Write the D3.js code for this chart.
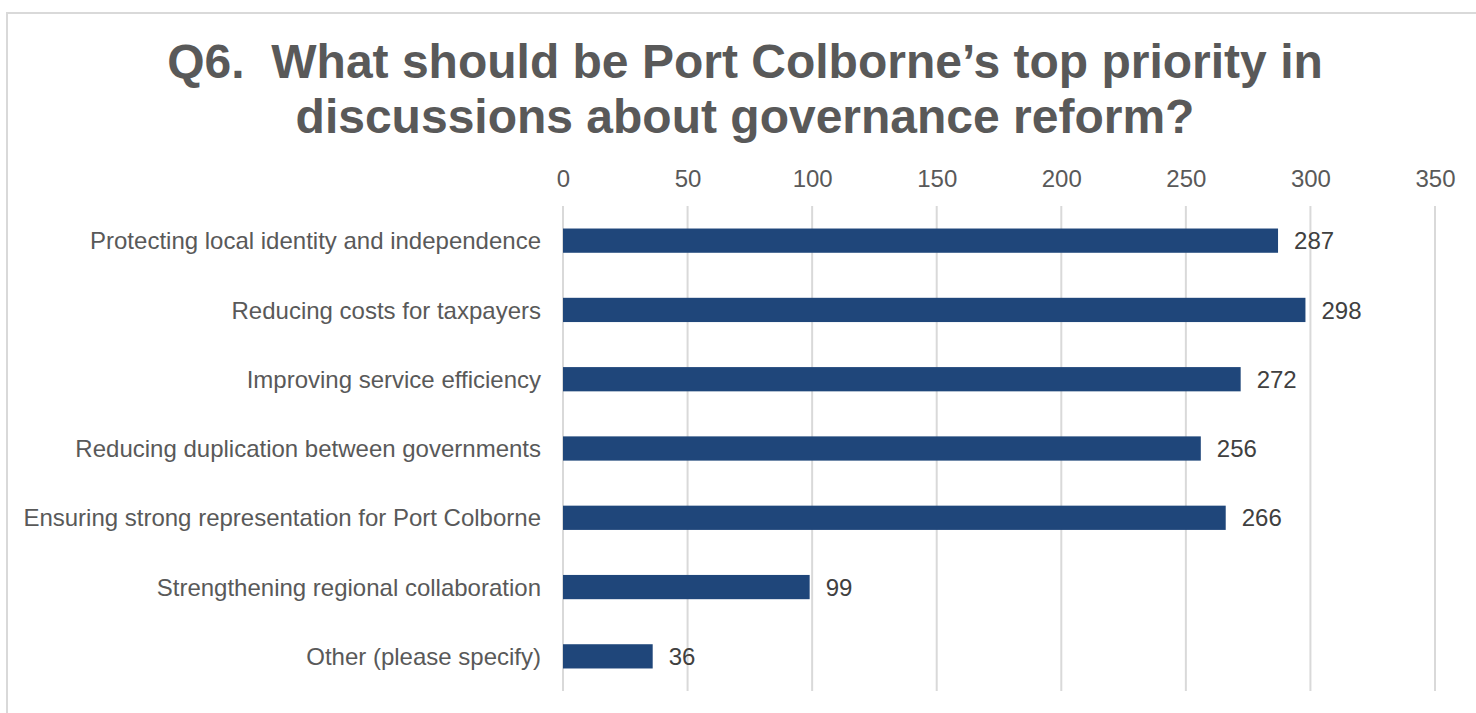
<!DOCTYPE html>
<html>
<head>
<meta charset="utf-8">
<script src="https://cdn.jsdelivr.net/npm/d3@7"></script>
<style>
  html, body { margin: 0; padding: 0; background: #ffffff; }
  svg { display: block; }
</style>
</head>
<body>
<svg id="chart" width="1476" height="713"></svg>
<script>
// Survey responses: top priority in governance reform discussions
const titleLines = [
  "Q6.\u00a0 What should be Port Colborne\u2019s top priority in",
  "discussions about governance reform?"
];
const categories = [
  "Protecting local identity and independence",
  "Reducing costs for taxpayers",
  "Improving service efficiency",
  "Reducing duplication between governments",
  "Ensuring strong representation for Port Colborne",
  "Strengthening regional collaboration",
  "Other (please specify)"
];
const responses = [287, 298, 272, 256, 266, 99, 36];
const tickValues = [0, 50, 100, 150, 200, 250, 300, 350];

const svg = d3.select("#chart");
const W = 1476, H = 713;
const font = "'Liberation Sans', Arial, sans-serif";

// chart frame
svg.append("rect")
  .attr("x", 7).attr("y", 13)
  .attr("width", W + 20).attr("height", H + 20)
  .attr("fill", "#ffffff")
  .attr("stroke", "#d9d9d9").attr("stroke-width", 2);

const plot = { left: 563, right: 1435, top: 206, bottom: 691 };

const x = d3.scaleLinear().domain([0, 350]).range([plot.left, plot.right]);
const y = d3.scaleBand().domain(categories)
  .range([plot.top, plot.bottom])
  .paddingInner(0.65).paddingOuter(0.325);

// title
svg.append("g").selectAll("text")
  .data(titleLines).join("text")
  .attr("x", 745)
  .attr("y", (d, i) => 78 + i * 55)
  .attr("text-anchor", "middle")
  .attr("font-family", font)
  .attr("font-weight", "bold")
  .attr("font-size", 48)
  .attr("fill", "#595959")
  .text(d => d);

// vertical gridlines
svg.append("g").selectAll("line")
  .data(tickValues).join("line")
  .attr("x1", d => x(d)).attr("x2", d => x(d))
  .attr("y1", plot.top).attr("y2", plot.bottom)
  .attr("stroke", "#d9d9d9").attr("stroke-width", 2);

// value axis along the top
const xAxis = d3.axisTop(x).tickValues(tickValues).tickSize(0).tickPadding(0);
const gx = svg.append("g").attr("transform", `translate(0,187)`).call(xAxis);
gx.select(".domain").remove();
gx.selectAll("text")
  .attr("font-family", font).attr("font-size", 24)
  .attr("fill", "#595959").attr("dy", 0);

// category axis
const yAxis = d3.axisLeft(y).tickSize(0).tickPadding(22);
const gy = svg.append("g").attr("transform", `translate(${plot.left},0)`).call(yAxis);
gy.select(".domain").remove();
gy.selectAll("text")
  .attr("font-family", font).attr("font-size", 24)
  .attr("fill", "#595959").attr("dy", "0.36em");

// bars
const rows = categories.map((c, i) => ({ c, v: responses[i] }));
svg.append("g").selectAll("rect")
  .data(rows).join("rect")
  .attr("x", x(0))
  .attr("y", d => y(d.c))
  .attr("width", d => x(d.v) - x(0))
  .attr("height", y.bandwidth())
  .attr("fill", "#1f467a");

// value labels
svg.append("g").selectAll("text")
  .data(rows).join("text")
  .attr("x", d => x(d.v) + 16)
  .attr("y", d => y(d.c) + y.bandwidth() / 2)
  .attr("dy", "0.36em")
  .attr("font-family", font).attr("font-size", 24)
  .attr("fill", "#404040")
  .text(d => d.v);
</script>
</body>
</html>
